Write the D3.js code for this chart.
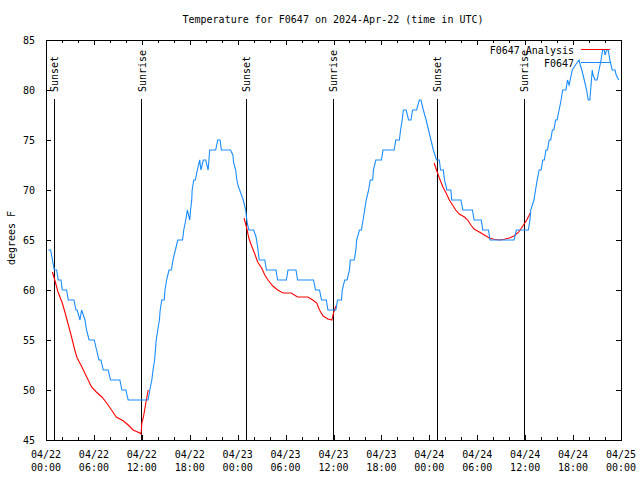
<!DOCTYPE html>
<html><head><meta charset="utf-8">
<script src="https://cdn.jsdelivr.net/npm/d3@7"></script>
<style>
body{margin:0;background:#fff;}
text{font-family:"DejaVu Sans Mono",monospace;font-size:10px;fill:#000;}
</style></head><body>
<svg id="c" width="640" height="480"></svg>
<script>
const titleText = "Temperature for F0647 on 2024-Apr-22 (time in UTC)";
const yLabel = "degrees F";
const seriesNames = ["F0647 Analysis", "F0647"];
const yTicks = [45, 50, 55, 60, 65, 70, 75, 80, 85];
const majorTickHours = d3.range(0, 73, 6);
const minorTickHours = d3.range(0, 73, 2);

// hours after 2024-04-22 00:00 UTC
const sunEvents = [["Sunset",1.04],["Sunrise",11.98],["Sunset",25.08],["Sunrise",35.97],["Sunset",49.0],["Sunrise",59.9]];

const observed = [[0.29,64],[0.58,64],[1.04,62],[1.33,62],[1.54,61],[1.88,61],[2.04,60],[2.58,60],[2.79,59],[3.5,59],[3.75,58],[3.9,58],[4.25,57],[4.46,58],[4.67,57.5],[4.88,57],[5.08,56],[5.4,55],[6.04,55],[6.33,54],[6.63,53],[6.88,53],[7.17,52],[7.79,52],[8.08,51],[9.25,51],[9.5,50],[10.0,50],[10.29,49],[12.79,49],
[13.0,50],[13.25,51],[13.4,52],[13.6,53],[13.7,54],[13.8,55],[14.0,56],[14.2,57],[14.3,58],[14.5,59],[14.8,59],[14.9,60],[15.1,61],[15.4,62],[15.7,62],[15.9,63],[16.2,64],[16.5,65],[17.1,65],[17.25,66],[17.5,67],[17.7,68],[18.0,67],[18.1,68],[18.25,69],[18.3,70],[18.5,71],[18.7,71],[18.95,72],[19.25,73],[19.4,72],[19.7,73],[20.0,73],[20.3,72],[20.5,74],[21.25,74],[21.5,75],[21.8,75],[21.96,74],[23.1,74],[23.4,73.5],[23.5,72.7],[23.75,72],[23.9,71],[24.1,70.3],[24.25,70],[24.7,69],[25.0,68],[25.1,67.3],[25.2,66.7],[25.4,66],[26.0,66],[26.3,65.3],[26.5,64.3],[26.7,63],[27.4,63],[27.6,62],[28.8,62],[29.0,61],[30.1,61],[30.3,62],[31.3,62],[31.5,61],[33.5,61],[33.75,60],[34.25,60],[34.5,59],[35.1,59],[35.3,58],[36.3,58],
[36.5,59],[37.0,59],[37.1,60],[37.4,61],[37.7,61],[38.0,62],[38.1,63],[38.6,63],[38.8,64],[38.9,65],[39.25,66],[39.5,66],[39.7,67],[39.9,68],[40.1,69],[40.4,70],[40.6,71],[40.9,71],[41.0,72],[41.3,73],[42.0,73],[42.2,74],[43.6,74],[43.8,75],[44.25,75],[44.4,76],[44.6,77],[44.75,78],[45.1,78],[45.4,77],[45.7,77],[45.9,78],[46.4,78],[46.75,79],[46.95,79],[47.25,78],[47.6,77],[47.9,76],[48.2,75],[48.5,74],[48.9,73],[49.25,73],[49.4,72],[49.75,72],[49.9,71],[50.2,70],[50.7,70],[50.8,69],[51.95,69],[52.2,68],[53.4,68],[53.6,67],[54.5,67],[54.7,66],[55.4,66],[55.6,65],[58.6,65],[58.9,66],[60.4,66],[60.6,67],[60.7,68],[61.1,69],[61.3,70],[61.5,71],[61.75,72],[62.0,72],[62.2,73],[62.4,73],[62.6,74],[62.8,74],[63.0,75],[63.2,75],[63.4,76],[63.6,76],[63.8,77],[64.0,77],[64.25,78],[64.5,79],[64.7,80],[65.1,80],[65.3,81],[65.5,80.5],[65.9,82],[66.3,82.5],[66.75,83],[66.9,82.5],[67.1,82],[67.4,81],[67.7,80],[67.9,79],[68.1,79],[68.3,81],[68.4,82],[68.5,81.5],[68.75,81],[69.0,81],[69.25,82],[69.5,83],[69.7,84],[69.9,84],[70.0,83.5],[70.2,84],[70.4,84],[70.6,83],[70.9,82],[71.25,82],[71.4,81.5],[71.7,81]];

const analysisNight1 = [[0.8,61.8],[1.1,61],[1.5,59.8],[2.0,58.8],[2.4,57.7],[2.8,56.5],[3.2,55.3],[3.6,54],[3.9,53.2],[4.5,52.3],[5.1,51.3],[5.7,50.3],[6.3,49.8],[7.0,49.3],[7.6,48.7],[8.2,48],[8.8,47.3],[9.7,46.9],[10.3,46.5],[10.9,46],[11.75,45.7],[11.9,45.6],[12.0,46.7],[12.2,47.3],[12.5,48.7],[12.8,50]];
const analysisNight2 = [[24.8,67.2],[25.1,66.3],[25.4,65.2],[25.7,64.5],[26.1,63.7],[26.5,62.8],[27.0,62.2],[27.4,61.5],[27.8,61],[28.4,60.4],[29.0,60],[29.7,59.7],[30.7,59.7],[31.5,59.3],[32.8,59.3],[33.4,59],[33.9,58.7],[34.25,58],[34.7,57.4],[35.3,57.1],[35.8,57],[36.0,57.7],[36.3,58.4]];
const analysisNight3 = [[48.6,72.7],[48.9,72],[49.25,71.2],[49.7,70.3],[50.1,69.7],[50.5,69],[50.9,68.5],[51.3,68],[51.75,67.6],[52.4,67.3],[52.8,67],[53.2,66.5],[53.6,66.1],[54.25,65.8],[54.9,65.5],[55.5,65.2],[56.1,65.07],[56.75,65],[57.4,65.07],[58.0,65.2],[58.6,65.4],[59.2,65.8],[59.7,66.4],[60.2,67],[60.7,67.8]];

const START = Date.UTC(2024, 3, 22);
const toDate = h => new Date(START + h * 3600e3);

const L = 46, R = 621, T = 40, B = 440;
const svg = d3.select("#c");
const x = d3.scaleUtc().domain([toDate(0), toDate(72)]).range([L, R]);
const y = d3.scaleLinear().domain([45, 85]).range([B, T]);

const blue = "#1a8cff", red = "#ff0000";

svg.append("text").attr("x", 333).attr("y", 23).attr("text-anchor", "middle").text(titleText);
svg.append("text").attr("transform", "translate(15,238) rotate(-90)").attr("text-anchor", "middle").text(yLabel);

const fmtD = d3.utcFormat("%m/%d"), fmtT = d3.utcFormat("%H:%M");
const gx = svg.append("g").attr("transform", `translate(0,${B})`)
  .call(d3.axisBottom(x).tickValues(majorTickHours.map(toDate)).tickSizeInner(-5).tickSizeOuter(0).tickFormat(""));
const gxm = svg.append("g").attr("transform", `translate(0,${B})`)
  .call(d3.axisBottom(x).tickValues(minorTickHours.map(toDate)).tickSizeInner(-3).tickSizeOuter(0).tickFormat(""));
const gt = svg.append("g").attr("transform", `translate(0,${T})`)
  .call(d3.axisTop(x).tickValues(majorTickHours.map(toDate)).tickSizeInner(-5).tickSizeOuter(0).tickFormat(""));
const gtm = svg.append("g").attr("transform", `translate(0,${T})`)
  .call(d3.axisTop(x).tickValues(minorTickHours.map(toDate)).tickSizeInner(-3).tickSizeOuter(0).tickFormat(""));
const gy = svg.append("g").attr("transform", `translate(${L},0)`)
  .call(d3.axisLeft(y).tickValues(yTicks).tickSizeInner(-5).tickSizeOuter(0).tickPadding(11).tickFormat(d3.format("d")));
const gr = svg.append("g").attr("transform", `translate(${R},0)`)
  .call(d3.axisRight(y).tickValues(yTicks).tickSizeInner(-5).tickSizeOuter(0).tickFormat(""));
[gx, gxm, gt, gtm, gy, gr].forEach(g => {
  g.select(".domain").remove();
  g.selectAll("line").attr("stroke", "#000").attr("shape-rendering", "crispEdges");
});
gy.selectAll("text").attr("font-family", "DejaVu Sans Mono").attr("font-size", 10).attr("fill", "#000");

const xl = svg.append("g");
majorTickHours.forEach(h => {
  const d = toDate(h);
  xl.append("text").attr("x", x(d)).attr("y", 458).attr("text-anchor", "middle").text(fmtD(d));
  xl.append("text").attr("x", x(d)).attr("y", 471).attr("text-anchor", "middle").text(fmtT(d));
});

svg.append("rect").attr("x", L).attr("y", T).attr("width", R - L).attr("height", B - T)
  .attr("fill", "none").attr("stroke", "#000").attr("shape-rendering", "crispEdges");

sunEvents.forEach(([name, h]) => {
  const px = x(toDate(h));
  svg.append("line").attr("x1", px).attr("x2", px).attr("y1", 99).attr("y2", B)
    .attr("stroke", "#000").attr("shape-rendering", "crispEdges");
  svg.append("text").attr("transform", `translate(${px + 4},92) rotate(-90)`).attr("text-anchor", "start").text(name);
});

const line = d3.line().x(d => x(toDate(d[0]))).y(d => y(d[1]));
[analysisNight1, analysisNight2, analysisNight3].forEach(seg => {
  svg.append("path").datum(seg).attr("d", line).attr("fill", "none").attr("stroke", red).attr("stroke-width", 1.1);
});
svg.append("path").datum(observed).attr("d", line).attr("fill", "none").attr("stroke", blue).attr("stroke-width", 1.1);

svg.append("text").attr("x", 574).attr("y", 54).attr("text-anchor", "end").text(seriesNames[0]);
svg.append("line").attr("x1", 581).attr("x2", 610).attr("y1", 49.5).attr("y2", 49.5).attr("stroke", red);
svg.append("text").attr("x", 574).attr("y", 67).attr("text-anchor", "end").text(seriesNames[1]);
svg.append("line").attr("x1", 581).attr("x2", 610).attr("y1", 62.5).attr("y2", 62.5).attr("stroke", blue);
</script></body></html>
